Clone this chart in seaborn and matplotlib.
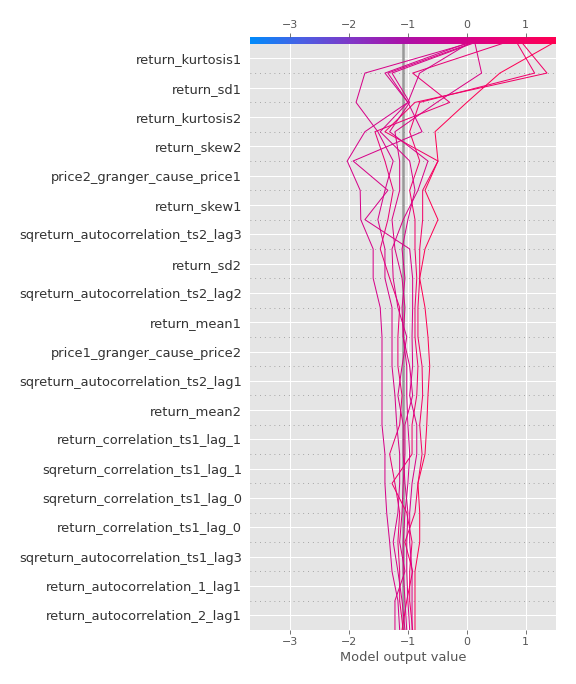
import numpy as np
import pandas as pd
import matplotlib
import matplotlib.pyplot as plt
import seaborn as sns
from matplotlib.colors import LinearSegmentedColormap, Normalize

# features, top of the plot first
features = ['return_kurtosis1', 'return_sd1', 'return_kurtosis2', 'return_skew2',
            'price2_granger_cause_price1', 'return_skew1',
            'sqreturn_autocorrelation_ts2_lag3', 'return_sd2',
            'sqreturn_autocorrelation_ts2_lag2', 'return_mean1',
            'price1_granger_cause_price2', 'sqreturn_autocorrelation_ts2_lag1',
            'return_mean2', 'return_correlation_ts1_lag_1',
            'sqreturn_correlation_ts1_lag_1', 'sqreturn_correlation_ts1_lag_0',
            'return_correlation_ts1_lag_0', 'sqreturn_autocorrelation_ts1_lag3',
            'return_autocorrelation_1_lag1', 'return_autocorrelation_2_lag1']

base_value = -1.08

# cumulative model output per observation, from the bottom feature up to the final prediction
obs_a = [-0.88, -0.88, -0.88, -0.80, -0.80, -0.83, -0.71, -0.68, -0.66, -0.63, -0.66,
         -0.71, -0.80, -0.71, -0.49, -0.71, -0.49, -0.54, 0.00, 0.56, 1.44]
obs_b = [-0.92, -0.97, -0.97, -0.93, -1.02, -1.27, -0.93, -0.93, -0.85, -0.83, -0.88,
         -0.88, -0.85, -0.88, -0.88, -0.97, -0.80, -0.97, -0.80, 1.15, 0.86]
obs_c = [-1.10, -1.02, -0.92, -1.05, -0.88, -0.83, -0.76, -0.80, -0.75, -0.76, -0.83,
         -0.83, -0.80, -0.80, -0.75, -0.75, -0.49, -1.39, -0.88, 1.36, 0.95]
obs_d = [-1.22, -1.22, -1.05, -1.14, -1.10, -1.08, -1.05, -1.05, -0.92, -0.97, -1.08,
         -1.05, -1.10, -1.22, -1.27, -1.14, -1.14, -1.22, -0.51, 0.25, 0.14]
obs_e = [-1.08, -1.14, -1.14, -1.17, -1.14, -1.22, -1.31, -1.14, -1.10, -1.17, -1.17,
         -1.14, -1.31, -1.47, -1.34, -1.25, -1.39, -1.56, -0.29, -0.92, 0.59]
obs_f = [-1.05, -1.10, -1.17, -1.25, -1.17, -1.14, -1.14, -1.19, -1.22, -1.27, -1.27,
         -1.27, -1.39, -1.39, -1.51, -1.39, -1.25, -1.51, -1.88, -1.73, 0.00]
obs_g = [-1.14, -1.17, -1.27, -1.31, -1.36, -1.39, -1.39, -1.44, -1.44, -1.44, -1.44,
         -1.47, -1.59, -1.59, -1.80, -1.81, -2.03, -1.73, -1.00, -1.39, -0.03]
obs_h = [-1.02, -1.05, -1.08, -1.08, -1.05, -1.00, -0.97, -1.00, -1.02, -1.02, -1.08,
         -1.10, -1.05, -1.10, -1.00, -0.88, -0.97, -1.47, -1.00, -1.34, 0.05]
obs_i = [-0.97, -1.00, -1.02, -1.02, -1.00, -1.05, -1.08, -1.08, -1.17, -1.10, -1.02,
         -1.17, -1.25, -1.27, -1.08, -0.83, -0.66, -1.31, -0.97, -1.27, 0.08]
obs_j = [-0.93, -0.93, -0.93, -0.97, -0.97, -0.93, -0.85, -0.85, -0.97, -0.92, -0.93,
         -0.92, -0.92, -0.97, -1.73, -1.34, -1.93, -0.76, -1.00, -0.80, 0.02]

paths = {'a': obs_a, 'b': obs_b, 'c': obs_c, 'd': obs_d, 'e': obs_e,
         'f': obs_f, 'g': obs_g, 'h': obs_h, 'i': obs_i, 'j': obs_j}

xlim = (-3.68, 1.51)
n = len(features)

plt.rcParams.update({
    'axes.facecolor': '#E5E5E5',
    'axes.edgecolor': 'white',
    'grid.color': 'white',
    'grid.linewidth': 1.0,
    'xtick.color': '#555555',
    'ytick.color': '#555555',
})

# shap style red/blue colormap
cmap = LinearSegmentedColormap.from_list(
    'red_blue', ['#008bfb', '#4a60e4', '#8136c6', '#ab12a8', '#cf0390', '#eb0072', '#ff0052'])
norm = Normalize(*xlim)

rows = []
for k, v in paths.items():
    for lvl, val in enumerate(v):
        rows.append({'obs': k, 'level': lvl, 'value': val})
df = pd.DataFrame(rows)
palette = {k: cmap(norm(v[-1])) for k, v in paths.items()}

fig = plt.figure(figsize=(8, 9.5), dpi=72)
ax = fig.add_axes([0.434, 0.079, 0.531, 0.857])

ax.axvline(base_value, color='#999999', lw=2.5, zorder=1)
for i in range(n):
    ax.axhline(i, color='#888888', lw=0.8, dashes=(1, 5), zorder=1)

sns.lineplot(data=df, x='value', y='level', hue='obs', palette=palette,
             sort=False, estimator=None, legend=False, lw=1, ax=ax, zorder=3)

ax.set_xlim(*xlim)
ax.set_ylim(0, n)
ax.set_yticks(np.arange(n) + 0.5)
ax.set_yticklabels(features[::-1], fontsize=13, color='#333333')
ax.set_xticks([-3, -2, -1, 0, 1])
ax.tick_params(axis='y', length=0, pad=8)
ax.tick_params(axis='x', labelsize=11, length=4)
ax.grid(True, zorder=0)
ax.set_axisbelow(True)
ax.set_xlabel('Model output value', fontsize=13, color='#555555')
ax.set_ylabel('')
for s in ax.spines.values():
    s.set_visible(False)

# colour bar across the top
cax = fig.add_axes([0.434, 0.9357, 0.531, 0.0102])
grad = np.linspace(0, 1, 256).reshape(1, -1)
cax.imshow(grad, aspect='auto', cmap=cmap, extent=[xlim[0], xlim[1], 0, 1])
cax.set_xlim(*xlim)
cax.set_yticks([])
cax.set_xticks([-3, -2, -1, 0, 1])
cax.xaxis.set_ticks_position('top')
cax.tick_params(axis='x', labelsize=11, length=4, color='#555555', labelcolor='#555555')
for s in cax.spines.values():
    s.set_visible(False)

fig.savefig('out.png', dpi=72)
